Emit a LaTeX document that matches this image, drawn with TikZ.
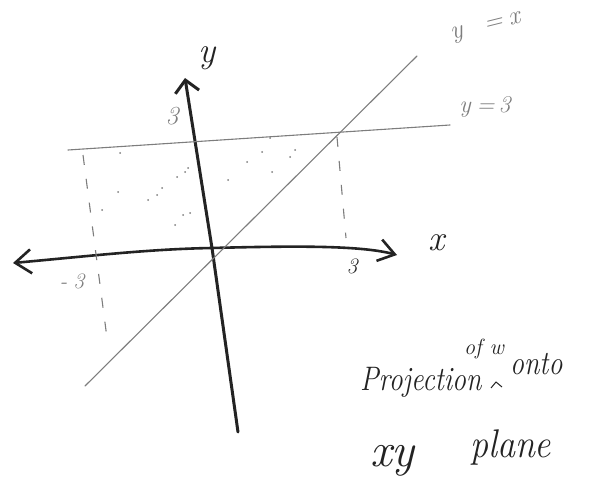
\documentclass[tikz,border=0pt]{standalone}
\usepackage{fontspec}
\usetikzlibrary{arrows.meta}
\definecolor{pencil}{RGB}{35,35,35}
\definecolor{lead}{RGB}{125,125,125}

\tikzset{
  axis/.style={draw=pencil,line width=2.6pt,line cap=round},
  guide/.style={draw=lead,line width=1.1pt,line cap=round},
  dashguide/.style={draw=lead,line width=1.1pt,dash pattern=on 10pt off 14pt},
  hand/.style={font=\itshape\fontsize{#1}{#1}\selectfont,text=pencil,inner sep=0pt},
}

\begin{document}
\begin{tikzpicture}[x=1pt,y=-1pt]
  \useasboundingbox (0,0) rectangle (597,500);
  % axes
  \coordinate (O) at (212,248);
  \coordinate (xl) at (13,263);
  \coordinate (xr) at (397,255);
  \coordinate (yt) at (185,78);
  \coordinate (yb) at (238,432);
  \draw[axis,{Straight Barb[length=16pt,width=24pt]}-{Straight Barb[length=16pt,width=22pt]}]
    (xl) .. controls (90,256) and (150,249) .. (O) .. controls (290,246) and (360,245) .. (xr);
  \draw[axis,line width=3pt,-{Straight Barb[length=12pt,width=24pt]}] (yb) -- (O) -- (yt);
  % y = x and y = 3
  \coordinate (dl) at (85,386);
  \coordinate (dr) at (417,56);
  \coordinate (hl) at (68,150);
  \coordinate (hr) at (450,125);
  \draw[guide] (dl) -- (dr);
  \draw[guide] (hl) -- (hr);
  % x = 3 and x = -3
  \coordinate (rt) at (337,137);
  \coordinate (rb) at (346,238);
  \coordinate (lt) at (83,155);
  \coordinate (lb) at (107,338);
  \draw[dashguide] (rt) -- (rb);
  \draw[dashguide] (lt) -- (lb);
  % pencil dots
  \foreach \p in {(120,153),(118,192),(102,210),(148,200),(157,195),(162,188),(177,177),
    (185,172),(188,168),(183,215),(190,213),(175,225),(228,180),(247,162),(262,152),
    (270,138),(290,157),(295,150),(272,172)}
    \fill[lead] \p circle (1pt);
  % labels
  \node[hand=36] (ylab) at (207,58) {y};
  \node[hand=26,text=lead] (ythree) at (172,116) {3};
  \node[hand=36] (xlab) at (437,243) {x};
  \node[hand=22] (xthree) at (352,266) {3};
  \node[hand=22,text=lead] (xmthree) at (72,281) {-\hspace{6pt}3};
  \node[hand=26,text=lead,rotate=14] (yxlab) at (486,28) {y\hspace{22pt}=\hspace{6pt}x};
  \node[hand=24,text=lead] (ythreelab) at (485,107) {y\hspace{6pt}=\hspace{4pt}3};
  % caption
  \node[hand=34,xscale=0.82,anchor=base west] (proj) at (360,390) {Projection};
  \node[hand=34,xscale=0.82,anchor=base west] (onto) at (510,374) {onto};
  \node[hand=22,anchor=base] (ofw) at (484,354) {of w};
  \draw[pencil,line width=1pt] (491,388) -- (496,382) -- (502,387);
  \node[hand=48,anchor=base west] (xy) at (370,466) {xy};
  \node[hand=40,xscale=0.9,anchor=base west] (plane) at (470,457) {plane};
\end{tikzpicture}
\end{document}
